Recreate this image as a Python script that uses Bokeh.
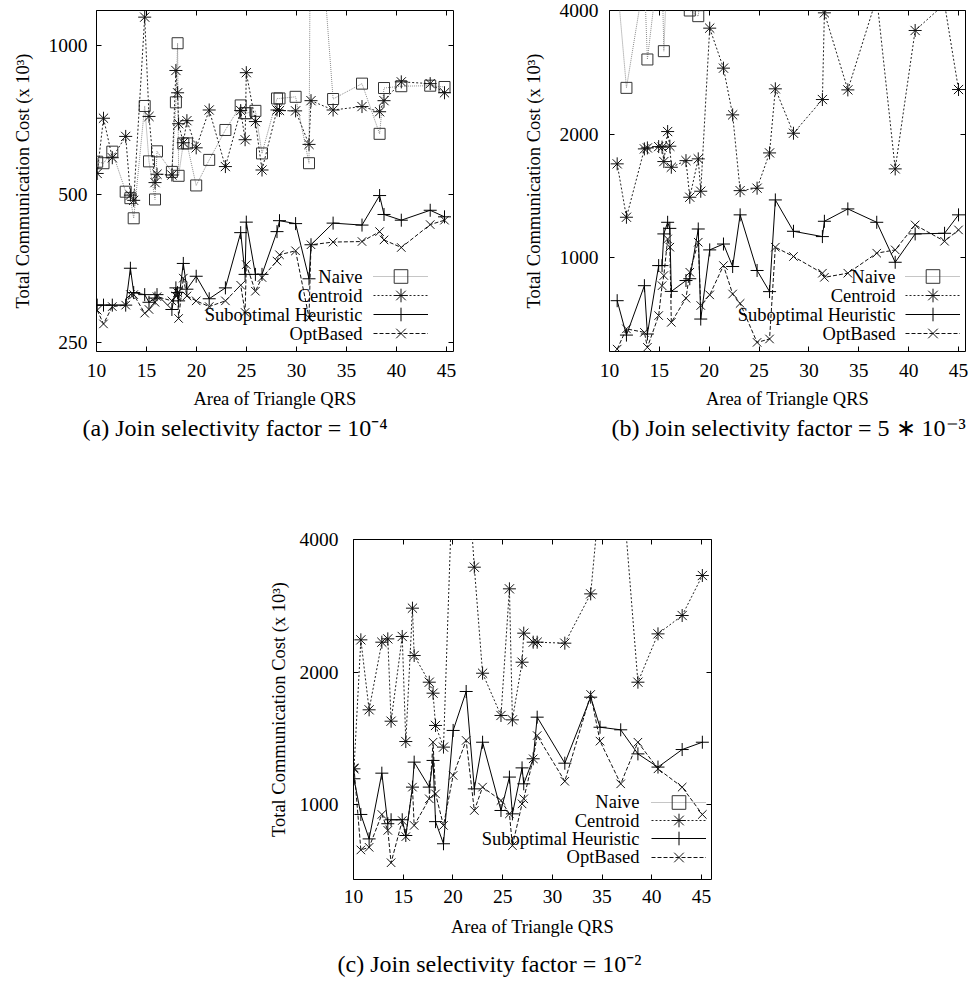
from bokeh.plotting import figure
from bokeh.models import (Range1d, FixedTicker, PrintfTickFormatter, LinearAxis, LogAxis,
                          Legend, LegendItem, Label, Title, Spacer)
from bokeh.layouts import column, row
from bokeh.embed import file_html
from bokeh.resources import INLINE

FONT = "Liberation Serif"
FS = "18.5px"
TICK_FS = "19.5px"

SERIES_NAMES = ["Naive", "Centroid", "Suboptimal Heuristic", "OptBased"]
X_TICKS = [10, 15, 20, 25, 30, 35, 40, 45]
X_LABEL = "Area of Triangle QRS"
Y_LABEL = "Total Communication Cost (x 10\u00b3)"

# ---------------- (a) join selectivity 1e-4 ----------------
xa = [10.07, 10.7, 11.58, 12.92, 13.39, 13.72, 14.82, 15.25, 15.85, 16.05, 17.54, 17.94,
      18.11, 18.21, 18.68, 19.04, 19.97, 21.27, 22.89, 24.42, 24.86, 24.98, 25.89, 26.55,
      28.05, 28.3, 29.91, 31.25, 31.45, 33.66, 36.55, 38.31, 38.75, 40.48, 43.37, 44.8]
naive_a = [582, 578, 610, 506, 491, 447, 755, 583, 488, 611, 555, 768, 1012, 545, 634, 634,
           521, 587, 675, 757, 730, 730, 738, 605, 782, 782, 788, 578, 3080, 780, 838, 663,
           821, 828, 830, 825]
centroid_a = [551, 713, 593, 655, 498, 486, 1143, 719, 528, 549, 547, 891, 803, 695, 636, 705,
              621, 741, 569, 739, 645, 882, 702, 560, 741, 739, 738, 631, 774, 741, 753, 735,
              774, 845, 838, 803]
subopt_a = [298, 298, 298, 298, 354, 316, 313, 302, 308, 313, 292, 323, 316, 304, 362, 321,
            341, 307, 323, 418, 344, 439, 344, 344, 420, 442, 436, 337, 395, 437, 433, 497,
            455, 443, 464, 450]
optbased_a = [291, 273, 296, 298, 313, 313, 287, 292, 302, 310, 304, 311, 316, 280, 338, 311,
              304, 296, 304, 327, 288, 360, 318, 339, 366, 377, 384, 281, 395, 400, 401, 420,
              404, 390, 434, 443]
yticks_a = [250, 500, 1000]

# ---------------- (b) join selectivity 5e-3 ----------------
xb = [10.77, 11.7, 13.5, 13.8, 14.93, 15.27, 15.45, 15.83, 16.05, 16.2, 17.67, 18.05, 18.9,
      19.15, 20.05, 21.43, 22.35, 23.1, 24.8, 26.05, 26.63, 28.45, 31.35, 31.55, 33.9, 36.8,
      38.65, 40.65, 43.6, 45.0]
naive_b = [4700, 2593, 4800, 3040, 5200, 5000, 3185, 5500, 5200, 5000, 4600, 4000, 3875, 4500,
           6000, 6500, 6000, 5500, 5800, 6000, 7000, 6500, 7000, 8000, 7000, 8000, 7000, 8000,
           8500, 8000]
centroid_b = [1694, 1256, 1842, 1852, 1866, 1860, 1716, 2030, 1870, 1662, 1725, 1405, 1742,
              1453, 3623, 2896, 2229, 1458, 1478, 1801, 2579, 2011, 2429, 3948, 2564, 4300,
              1647, 3576, 4150, 2569]
subopt_b = [787, 649, 856, 653, 958, 958, 1144, 1221, 1180, 829, 881, 890, 1176, 710, 1046,
            1081, 953, 1273, 932, 828, 1384, 1161, 1127, 1228, 1316, 1221, 976, 1144, 1148, 1273]
optbased_b = [600, 672, 659, 606, 724, 856, 906, 1112, 1062, 697, 798, 923, 1092, 766, 813,
              958, 817, 775, 623, 635, 1062, 1008, 918, 897, 918, 1027, 1046, 1203, 1098, 1170]
yticks_b = [1000, 2000, 4000]

# ---------------- (c) join selectivity 1e-2 ----------------
xc = [10.05, 10.74, 11.57, 12.85, 13.45, 13.78, 14.9, 15.26, 15.93, 16.1, 17.62, 18.0, 18.25,
      19.05, 20.02, 21.33, 22.15, 22.98, 24.83, 25.68, 25.98, 26.95, 27.12, 28.07, 28.47,
      31.25, 33.85, 34.79, 36.87, 38.6, 40.62, 43.05, 45.08]
naive_c = [9800, 11500, 10400, 12200, 11800, 10900, 12600, 11200, 13100, 12400, 12900, 13500,
           12100, 11700, 16800, 17500, 15200, 13800, 13300, 15600, 12800, 14100, 14800, 14300,
           14600, 14900, 16100, 18200, 19400, 14700, 16300, 17100, 18800]
centroid_c = [1207, 2368, 1643, 2339, 2380, 1548, 2410, 1392, 2794, 2182, 1898, 1792, 1514,
              1352, 6000, 6500, 3461, 1989, 1595, 3091, 1559, 2107, 2452, 2339, 2339, 2327,
              3011, 5100, 5900, 1898, 2443, 2689, 3314]
subopt_c = [1146, 951, 837, 1180, 906, 925, 925, 852, 1097, 1250, 1097, 1261, 916, 816, 1475,
            1808, 1087, 1387, 971, 1156, 954, 1213, 1116, 1272, 1581, 1243, 1755, 1500, 1480,
            1305, 1218, 1335, 1387]
optbased_c = [1213, 790, 801, 951, 875, 739, 921, 847, 1097, 898, 1032, 1387, 1059, 898, 1166,
              1400, 971, 1097, 1023, 954, 808, 1005, 1032, 1272, 1436, 1131, 1780, 1395, 1116,
              1387, 1207, 1097, 951]
yticks_c = [1000, 2000, 4000]

STYLES = {
    "Naive": dict(line_color="#8c8c8c", line_dash="1 1", marker="square",
                  marker_color="#333333", size=11),
    "Centroid": dict(line_color="#222222", line_dash="2 2", marker="asterisk",
                     marker_color="#111111", size=13),
    "Suboptimal Heuristic": dict(line_color="#000000", line_dash="solid", marker="cross",
                                 marker_color="#000000", size=13),
    "OptBased": dict(line_color="#111111", line_dash="4 2", marker="x",
                     marker_color="#111111", size=12),
}


def style_axis(ax, mirror=False):
    ax.axis_line_color = None
    ax.major_tick_line_color = "black"
    ax.major_tick_in = 5
    ax.major_tick_out = 0
    ax.minor_tick_line_color = None
    ax.minor_tick_in = 0
    ax.minor_tick_out = 0
    if mirror:
        ax.major_label_text_font_size = "0px"
        ax.major_label_text_color = None
        ax.major_label_standoff = 0
    else:
        ax.major_label_text_font = FONT
        ax.major_label_text_font_size = TICK_FS
        ax.major_label_text_color = "black"
        ax.axis_label_text_font = FONT
        ax.axis_label_text_font_size = FS
        ax.axis_label_text_font_style = "normal"
        ax.axis_label_text_color = "black"


def make_panel(xs, series, cfg):
    p = figure(width=cfg["w"], height=cfg["h"], title=None,
               x_range=Range1d(*cfg["xr"]), y_range=Range1d(*cfg["yr"]),
               y_axis_type="log", output_backend="svg", toolbar_location=None,
               min_border_left=cfg["bl"], min_border_right=cfg["br"],
               min_border_top=cfg["bt"], min_border_bottom=cfg["bb"])
    p.grid.visible = False
    p.outline_line_color = "black"
    p.outline_line_width = 1
    p.background_fill_color = "white"
    p.border_fill_color = "white"

    xt = FixedTicker(ticks=X_TICKS, minor_ticks=[])
    yt = FixedTicker(ticks=cfg["yticks"], minor_ticks=[])
    xax = p.xaxis[0]
    yax = p.yaxis[0]
    xax.ticker = xt
    yax.ticker = yt
    yax.formatter = PrintfTickFormatter(format="%d")
    style_axis(xax)
    style_axis(yax)
    xax.axis_label = X_LABEL
    yax.axis_label = Y_LABEL
    xax.major_label_standoff = cfg["x_std"]
    xax.axis_label_standoff = cfg["x_lab_std"]
    yax.major_label_standoff = cfg["y_std"]
    yax.axis_label_standoff = cfg["y_lab_std"]

    top = LinearAxis(ticker=xt)
    style_axis(top, mirror=True)
    p.add_layout(top, "above")
    right = LogAxis(ticker=yt)
    style_axis(right, mirror=True)
    p.add_layout(right, "right")

    renderers = {}
    for name, ys in zip(SERIES_NAMES, series):
        st = STYLES[name]
        rl = p.line(xs, ys, line_color=st["line_color"], line_dash=st["line_dash"], line_width=1)
        rs = p.scatter(xs, ys, marker=st["marker"], size=st["size"], line_color=st["marker_color"],
                       fill_color=None, line_width=1)
        renderers[name] = (rl, rs)

    # legend: text on the left (right aligned), sample line + marker on the right
    gh = 34
    n = len(SERIES_NAMES)
    for i, name in enumerate(SERIES_NAMES):
        yc = cfg["leg_y0"] + cfg["leg_pitch"] * (n - 1 - i)
        leg = Legend(items=[LegendItem(label="", renderers=list(renderers[name]))],
                     location=(cfg["leg_x"], yc - gh / 2), glyph_width=55, glyph_height=gh,
                     label_width=0, label_height=gh, label_standoff=0, padding=0, margin=0,
                     spacing=0, border_line_color=None, background_fill_alpha=0)
        p.add_layout(leg)
        p.add_layout(Label(x=cfg["txt_x"], y=yc, x_units="screen", y_units="screen", text=name,
                           text_align="right", text_baseline="middle", text_font=FONT,
                           text_font_size=FS, text_color="black"))

    p.add_layout(Title(text=cfg["caption"], align="left", offset=cfg["cap_off"],
                       standoff=cfg["cap_std"], text_font=FONT, text_font_size="24px",
                       text_font_style="normal", text_color="black"), "below")
    return p


pa = make_panel(xa, [naive_a, centroid_a, subopt_a, optbased_a], dict(
    w=465, h=527, bl=96, br=12, bt=6, bb=176, xr=(10, 45.7), yr=(240, 1179), yticks=yticks_a,
    x_std=12, x_lab_std=9, y_std=9, y_lab_std=13,
    leg_x=277, leg_y0=17.7, leg_pitch=19, txt_x=266,
    caption="(a) Join selectivity factor = 10\u207b\u2074", cap_off=-14, cap_std=2))

pb = make_panel(xb, [naive_b, centroid_b, subopt_b, optbased_b], dict(
    w=504, h=527, bl=144, br=4, bt=10, bb=176, xr=(10, 45.7), yr=(592, 4000), yticks=yticks_b,
    x_std=12, x_lab_std=9, y_std=11, y_lab_std=13,
    leg_x=296, leg_y0=17.7, leg_pitch=19, txt_x=286,
    caption="(b) Join selectivity factor = 5 \u2217 10\u207b\u00b3", cap_off=2, cap_std=2))

pc = make_panel(xc, [naive_c, centroid_c, subopt_c, optbased_c], dict(
    w=476, h=458, bl=103, br=15, bt=12, bb=106, xr=(10, 46.0), yr=(677, 4000), yticks=yticks_c,
    x_std=10, x_lab_std=11, y_std=15, y_lab_std=8,
    leg_x=298, leg_y0=22.3, leg_pitch=18.3, txt_x=286,
    caption="(c) Join selectivity factor = 10\u207b\u00b2", cap_off=-16, cap_std=18))

layout = column(row(pa, pb), row(Spacer(width=250, height=458), pc))

open("out.html", "w").write(file_html(layout, INLINE))
